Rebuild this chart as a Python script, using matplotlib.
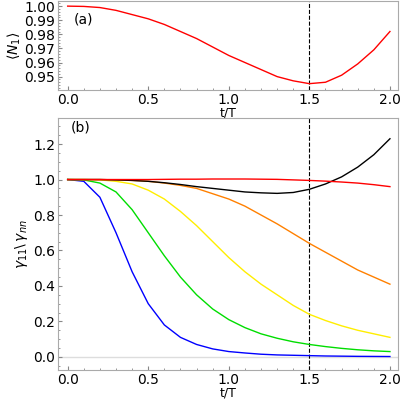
import matplotlib.pyplot as plt
import numpy as np

t = np.round(np.arange(0, 2.01, 0.1), 2)

n1 = [1.0, 0.9998, 0.999, 0.997, 0.994, 0.991, 0.987, 0.982, 0.977, 0.971, 0.965,
      0.960, 0.955, 0.950, 0.947, 0.945, 0.946, 0.951, 0.959, 0.969, 0.982]

blue = [1.0, 0.99, 0.90, 0.70, 0.48, 0.30, 0.18, 0.11, 0.07, 0.045, 0.03,
        0.022, 0.015, 0.011, 0.009, 0.007, 0.005, 0.004, 0.003, 0.0025, 0.002]
green = [1.0, 0.998, 0.98, 0.93, 0.83, 0.70, 0.57, 0.45, 0.35, 0.27, 0.21,
         0.165, 0.13, 0.105, 0.085, 0.07, 0.058, 0.048, 0.04, 0.034, 0.03]
yellow = [1.0, 1.0, 0.998, 0.99, 0.975, 0.94, 0.89, 0.82, 0.74, 0.65, 0.56,
          0.48, 0.41, 0.35, 0.29, 0.24, 0.205, 0.175, 0.15, 0.13, 0.11]
orange = [1.0, 1.0, 1.0, 0.998, 0.995, 0.99, 0.98, 0.967, 0.95, 0.92, 0.89,
          0.85, 0.80, 0.75, 0.695, 0.64, 0.59, 0.54, 0.49, 0.45, 0.41]
black = [1.0, 1.0, 1.0, 0.998, 0.995, 0.99, 0.982, 0.972, 0.96, 0.95, 0.94,
         0.93, 0.925, 0.922, 0.927, 0.945, 0.975, 1.015, 1.07, 1.14, 1.23]
red = [1.0, 1.0, 1.0, 1.0, 1.0, 1.0, 1.001, 1.002, 1.002, 1.003, 1.003,
       1.003, 1.002, 1.001, 0.998, 0.995, 0.991, 0.986, 0.98, 0.971, 0.96]

fig = plt.figure(figsize=(4, 4), dpi=100)
ax1 = fig.add_axes([0.145, 0.775, 0.85, 0.222])
ax2 = fig.add_axes([0.145, 0.075, 0.85, 0.63])

for ax in (ax1, ax2):
    for s in ax.spines.values():
        s.set_color('#aaaaaa')
    ax.tick_params(labelsize=10, color='#888888', direction='in', length=3, pad=2)
    ax.minorticks_on()
    ax.tick_params(which='minor', direction='in', length=1.5, color='#888888')
    ax.set_xlim(-0.06, 2.05)
    ax.set_xticks([0, 0.5, 1.0, 1.5, 2.0])
    ax.set_xticklabels(['0.0', '0.5', '1.0', '1.5', '2.0'])
    ax.axvline(1.5, color='k', ls='--', lw=0.8)
    ax.set_xlabel('t/T', fontsize=9, labelpad=0)

ax1.plot(t, n1, color='red', lw=1)
ax1.set_ylim(0.9405, 1.0035)
ax1.set_yticks([0.95, 0.96, 0.97, 0.98, 0.99, 1.00])
ax1.set_yticklabels(['0.95', '0.96', '0.97', '0.98', '0.99', '1.00'])
ax1.set_ylabel(r'$\langle N_1\rangle$', fontsize=10, labelpad=1)
ax1.text(0.04, 0.988, '(a)', fontsize=10)

for y, c in [(blue, 'blue'), (green, '#00dd00'), (yellow, '#ffee00'),
             (orange, '#ff8000'), (black, 'black'), (red, 'red')]:
    ax2.plot(t, y, color=c, lw=1)
ax2.axhline(0, color='#dddddd', lw=1, zorder=0)
ax2.set_ylim(-0.074, 1.347)
ax2.set_yticks([0, 0.2, 0.4, 0.6, 0.8, 1.0, 1.2])
ax2.set_yticklabels(['0.0', '0.2', '0.4', '0.6', '0.8', '1.0', '1.2'])
ax2.set_ylabel(r'$\gamma_{11}\backslash\,\gamma_{nn}$', fontsize=10, labelpad=2)
ax2.text(0.02, 1.27, '(b)', fontsize=10)

fig.savefig('out.png')
